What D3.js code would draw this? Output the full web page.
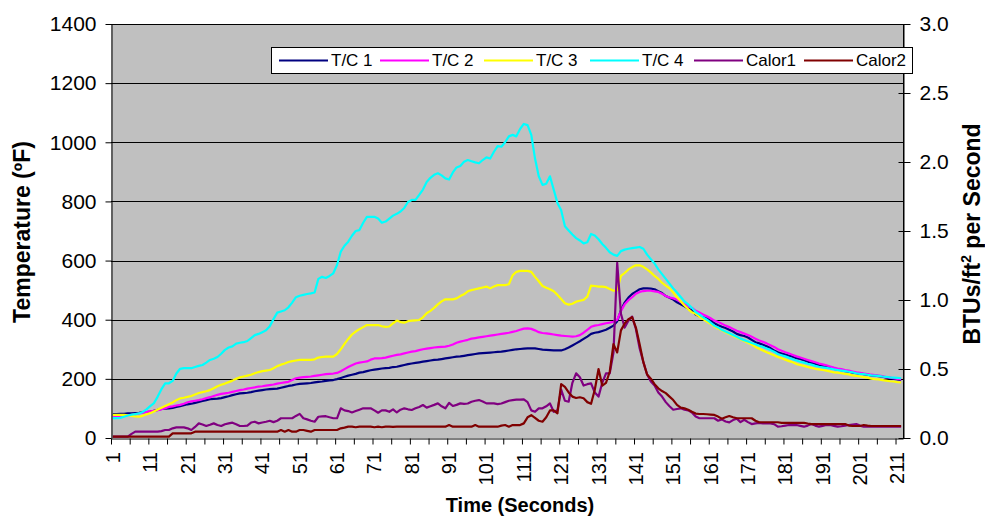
<!DOCTYPE html>
<html><head><meta charset="utf-8">
<script src="https://cdn.jsdelivr.net/npm/d3@7"></script>
<style>
body{margin:0;background:#fff}
svg{display:block}
text{font-family:"Liberation Sans",Arial,sans-serif;fill:#000}
</style>
</head><body>
<svg id="c" width="985" height="517"></svg>
<script>
// ---- data ----
const seconds = d3.range(1, 213);
const tc1 = [81,81,82,82,83,83,84,85,87,88,
89,92,95,98,99,100,102,105,108,111,
114,116,119,122,125,128,131,132,133,135,
138,141,145,148,151,152,153,155,158,160,
162,164,165,166,167,170,173,176,178,181,
183,184,185,186,188,190,191,193,195,196,
199,203,207,211,214,217,221,223,226,229,
231,233,235,236,237,240,241,244,247,250,
252,254,256,258,260,262,264,265,267,269,
271,273,275,276,278,280,282,284,286,287,
288,289,290,291,292,294,296,298,300,301,
302,303,303,303,301,299,298,297,296,296,
296,300,306,313,320,327,335,343,352,356,
358,362,366,373,380,395,432,458,475,487,
495,503,506,506,505,503,496,490,480,474,
468,459,452,445,438,432,418,412,408,404,
397,388,381,376,372,366,360,352,348,345,
340,332,324,320,315,310,304,296,290,286,
282,278,275,270,267,263,258,254,250,246,
243,240,237,234,232,229,226,224,221,219,
218,216,214,212,211,209,207,204,202,200,
198,196];
const tc2 = [74,74,75,76,77,78,80,83,86,88,
90,92,94,97,101,105,107,110,112,116,
121,124,126,128,131,135,138,142,146,149,
151,153,156,159,162,164,167,169,171,174,
175,177,179,181,184,186,188,190,196,202,
204,206,207,208,210,212,214,216,217,218,
220,226,233,240,246,252,255,257,259,265,
269,269,270,272,275,278,281,283,286,289,
292,294,297,300,302,304,306,307,308,309,
312,316,322,326,329,332,336,338,340,342,
344,346,348,350,352,354,356,359,362,366,
370,371,369,364,358,355,354,352,350,348,
346,345,344,343,344,348,356,366,376,380,
382,385,388,390,393,400,430,452,466,476,
488,494,497,498,498,496,494,488,480,475,
472,468,460,452,446,440,430,424,418,412,
405,397,392,386,380,375,369,363,358,353,
348,342,336,330,325,320,314,308,300,295,
290,286,281,276,272,268,264,260,256,252,
249,246,242,238,235,233,230,228,225,222,
220,218,216,214,213,211,209,206,204,202,
200,198];
const tc3 = [78,78,78,78,77,75,73,72,75,80,
84,90,96,102,108,114,120,128,134,136,
139,142,147,152,155,158,162,168,175,180,
184,189,194,200,205,208,211,214,219,223,
226,228,230,236,243,248,252,257,260,262,
264,264,264,264,266,272,274,275,275,275,
284,300,318,335,350,360,368,375,382,382,
382,382,378,376,377,388,397,392,390,395,
397,398,399,408,422,430,440,452,462,469,
469,469,472,480,486,496,500,503,506,509,
512,506,512,517,517,517,520,550,562,565,
565,565,562,545,530,514,508,503,496,484,
470,456,451,454,461,464,467,478,515,514,
512,512,510,504,498,500,548,558,570,578,
584,584,579,570,560,548,538,525,515,506,
492,476,462,448,436,425,420,410,402,394,
386,378,370,364,358,352,346,340,334,328,
322,316,308,302,296,290,285,280,274,270,
265,260,256,250,247,244,240,237,234,232,
230,228,225,222,221,219,217,215,212,210,
208,206,204,201,199,198,196,194,192,191,
189,188];
const tc4 = [67,67,68,72,76,79,81,83,88,97,
108,118,140,165,185,185,193,218,234,236,
236,236,240,244,247,255,264,268,274,285,
298,306,310,319,322,324,328,338,348,352,
358,364,378,402,424,428,432,442,458,476,
481,484,487,489,492,538,545,541,548,557,
585,630,650,664,684,700,703,728,748,748,
748,742,728,732,742,752,758,766,778,798,
805,805,822,840,866,880,890,895,888,878,
874,898,915,920,934,940,936,932,929,940,
949,945,968,987,985,1000,1020,1025,1020,1045,
1062,1058,1025,945,885,856,860,885,840,795,
770,716,702,688,676,668,658,662,690,685,
672,656,643,628,620,616,632,637,640,642,
644,646,640,620,605,590,570,554,538,522,
506,492,477,462,452,440,426,418,408,400,
390,380,374,366,360,354,348,342,336,331,
326,321,317,312,308,303,298,292,284,280,
276,271,266,262,258,255,251,248,244,241,
239,237,235,232,230,228,226,224,222,219,
217,216,214,212,211,210,208,207,205,204,
203,202];
const calor1 = [0.01,0.01,0.01,0.01,0.01,0.03,0.046,0.046,0.046,0.046,
0.046,0.046,0.046,0.05,0.058,0.058,0.07,0.077,0.077,0.077,
0.07,0.058,0.08,0.106,0.098,0.087,0.096,0.106,0.094,0.087,
0.1,0.106,0.111,0.1,0.087,0.087,0.09,0.112,0.118,0.106,
0.112,0.118,0.125,0.115,0.125,0.143,0.143,0.143,0.143,0.16,
0.175,0.143,0.135,0.125,0.118,0.154,0.156,0.158,0.15,0.143,
0.143,0.215,0.2,0.195,0.185,0.195,0.205,0.215,0.215,0.215,
0.2,0.183,0.2,0.2,0.19,0.208,0.185,0.205,0.215,0.208,
0.203,0.215,0.225,0.239,0.22,0.23,0.24,0.251,0.23,0.215,
0.255,0.232,0.24,0.251,0.247,0.25,0.263,0.27,0.275,0.265,
0.251,0.251,0.251,0.246,0.25,0.26,0.27,0.275,0.278,0.278,
0.28,0.26,0.2,0.19,0.215,0.215,0.23,0.251,0.19,0.2,
0.35,0.27,0.263,0.4,0.469,0.44,0.38,0.39,0.396,0.33,
0.3,0.4,0.469,0.469,0.62,1.27,0.9,0.8,0.85,0.88,
0.79,0.65,0.55,0.46,0.41,0.38,0.33,0.3,0.26,0.23,
0.205,0.21,0.215,0.205,0.2,0.185,0.155,0.143,0.143,0.143,
0.143,0.143,0.125,0.135,0.12,0.113,0.13,0.14,0.115,0.132,
0.115,0.101,0.106,0.11,0.106,0.106,0.106,0.1,0.082,0.085,
0.09,0.094,0.094,0.094,0.088,0.082,0.09,0.101,0.09,0.082,
0.088,0.094,0.094,0.088,0.082,0.085,0.09,0.094,0.098,0.101,
0.09,0.082,0.082,0.082,0.082,0.082,0.082,0.082,0.082,0.082,
0.082,0.082];
const calor2 = [0.01,0.01,0.01,0.01,0.01,0.01,0.01,0.01,0.01,0.01,
0.01,0.01,0.01,0.01,0.01,0.01,0.034,0.034,0.034,0.034,
0.034,0.034,0.046,0.046,0.046,0.046,0.046,0.046,0.046,0.046,
0.046,0.046,0.046,0.046,0.046,0.046,0.046,0.046,0.046,0.046,
0.046,0.046,0.046,0.046,0.046,0.058,0.046,0.058,0.046,0.046,
0.058,0.058,0.052,0.046,0.058,0.058,0.058,0.058,0.058,0.058,
0.058,0.07,0.075,0.082,0.082,0.078,0.082,0.082,0.082,0.082,
0.078,0.082,0.078,0.082,0.082,0.08,0.082,0.082,0.082,0.082,
0.082,0.082,0.082,0.082,0.082,0.082,0.082,0.082,0.082,0.082,
0.094,0.082,0.082,0.082,0.082,0.082,0.082,0.094,0.082,0.082,
0.082,0.082,0.082,0.082,0.09,0.094,0.082,0.094,0.094,0.094,
0.106,0.15,0.165,0.145,0.125,0.118,0.15,0.2,0.2,0.179,
0.39,0.37,0.33,0.3,0.29,0.295,0.288,0.26,0.248,0.35,
0.5,0.38,0.4,0.48,0.68,0.62,0.78,0.83,0.86,0.875,
0.8,0.68,0.55,0.46,0.43,0.39,0.36,0.34,0.325,0.3,
0.275,0.24,0.22,0.215,0.205,0.19,0.177,0.174,0.174,0.172,
0.17,0.167,0.155,0.14,0.15,0.159,0.15,0.143,0.143,0.143,
0.143,0.143,0.125,0.114,0.114,0.114,0.114,0.114,0.114,0.11,
0.11,0.11,0.11,0.11,0.11,0.11,0.105,0.101,0.101,0.101,
0.101,0.101,0.101,0.101,0.101,0.101,0.101,0.09,0.087,0.087,
0.087,0.094,0.09,0.087,0.087,0.087,0.087,0.087,0.087,0.087,
0.087,0.087];

const tempTicks = [0,200,400,600,800,1000,1200,1400];
const fluxTicks = [0,0.5,1.0,1.5,2.0,2.5,3.0];
const timeLabels = d3.range(1, 213, 10);
const seriesNames = ["T/C 1","T/C 2","T/C 3","T/C 4","Calor1","Calor2"];
const seriesColors = ["#000080","#FF00FF","#FFFF00","#00FFFF","#800080","#800000"];

// ---- layout ----
const L = 111, R = 903, T = 24, B = 438;
const svg = d3.select("#c");
const xb = d3.scaleLinear().domain([0, seconds.length]).range([L, R]);
const xc = d3.scaleBand().domain(seconds).range([L, R]);
const yT = d3.scaleLinear().domain([0, 1400]).range([B, T]);
const yC = d3.scaleLinear().domain([0, 3]).range([B, T]);

svg.append("rect").attr("x", L).attr("y", T).attr("width", R - L).attr("height", B - T)
  .attr("fill", "#C0C0C0");

// gridlines
svg.append("g").selectAll("line").data(tempTicks.slice(1)).join("line")
  .attr("x1", L).attr("x2", R)
  .attr("y1", d => Math.round(yT(d)) + 0.5).attr("y2", d => Math.round(yT(d)) + 0.5)
  .attr("stroke", "#000").attr("stroke-width", 1);

// plot border (right)
svg.append("line").attr("x1", R + 0.5).attr("x2", R + 0.5).attr("y1", T).attr("y2", B)
  .attr("stroke", "#000");

// series
const series = [
  {name: seriesNames[0], color: seriesColors[0], vals: tc1, y: yT},
  {name: seriesNames[1], color: seriesColors[1], vals: tc2, y: yT},
  {name: seriesNames[2], color: seriesColors[2], vals: tc3, y: yT},
  {name: seriesNames[3], color: seriesColors[3], vals: tc4, y: yT},
  {name: seriesNames[4], color: seriesColors[4], vals: calor1, y: yC},
  {name: seriesNames[5], color: seriesColors[5], vals: calor2, y: yC}
];
const gLines = svg.append("g");
series.forEach(s => {
  const line = d3.line()
    .x((d, i) => xc(seconds[i]) + xc.bandwidth() / 2)
    .y(d => s.y(d));
  gLines.append("path").datum(s.vals)
    .attr("d", line).attr("fill", "none")
    .attr("stroke", s.color).attr("stroke-width", 2.2)
    .attr("stroke-linejoin", "round");
});

// left axis
const axL = svg.append("g").attr("transform", `translate(${L + 0.5},0)`)
  .call(d3.axisLeft(yT).tickValues(tempTicks).tickFormat(d3.format("d"))
    .tickSize(6).tickPadding(9).tickSizeOuter(0));
axL.selectAll("text").attr("font-size", 21);
axL.selectAll("line,path").attr("stroke", "#000");

// right axis
const axR = svg.append("g").attr("transform", `translate(${R + 0.5},0)`)
  .call(d3.axisRight(yC).tickValues(fluxTicks).tickFormat(d3.format(".1f"))
    .tickSize(7).tickPadding(9).tickSizeOuter(0));
axR.selectAll("text").attr("font-size", 21);
axR.selectAll("line,path").attr("stroke", "#000");
axR.selectAll(".tick line").attr("x1", -5);

// bottom axis: tick marks every 5 categories
const axB = svg.append("g").attr("transform", `translate(0,${B + 0.5})`)
  .call(d3.axisBottom(xb).tickValues(d3.range(0, seconds.length + 1, 5)).tickFormat("")
    .tickSize(6).tickSizeOuter(0));
axB.selectAll("line,path").attr("stroke", "#000");
// bottom axis: labels
const axBL = svg.append("g").attr("transform", `translate(0,${B})`)
  .call(d3.axisBottom(xc).tickValues(timeLabels).tickSize(0).tickPadding(0));
axBL.select(".domain").remove();
axBL.selectAll("text")
  .attr("font-size", 20)
  .attr("text-anchor", "end")
  .attr("transform", "rotate(-90)")
  .attr("x", -14).attr("y", 0).attr("dy", "0.35em");

// axis titles
svg.append("text").attr("transform", "translate(30,232) rotate(-90)")
  .attr("text-anchor", "middle").attr("font-weight", "bold").attr("font-size", 23)
  .text("Temperature (ºF)");
svg.append("text").attr("x", 520).attr("y", 512)
  .attr("text-anchor", "middle").attr("font-weight", "bold").attr("font-size", 20)
  .text("Time (Seconds)");
const rt = svg.append("text").attr("transform", "translate(980,234) rotate(-90)")
  .attr("text-anchor", "middle").attr("font-weight", "bold").attr("font-size", 23);
rt.append("tspan").text("BTUs/ft");
rt.append("tspan").attr("font-size", 14).attr("dy", -9).text("2");
rt.append("tspan").attr("dy", 9).text(" per Second");

// legend
const lg = svg.append("g");
lg.append("rect").attr("x", 271.5).attr("y", 47.5).attr("width", 641).attr("height", 26)
  .attr("fill", "#fff").attr("stroke", "#000");
const legX = [279, 380, 484, 590, 694, 804];
series.forEach((s, i) => {
  lg.append("line").attr("x1", legX[i]).attr("x2", legX[i] + 49)
    .attr("y1", 60.5).attr("y2", 60.5).attr("stroke", s.color).attr("stroke-width", 2.2);
  lg.append("text").attr("x", legX[i] + 52).attr("y", 60.5).attr("dy", "0.35em")
    .attr("font-size", 17).text(s.name);
});
</script>
</body></html>
